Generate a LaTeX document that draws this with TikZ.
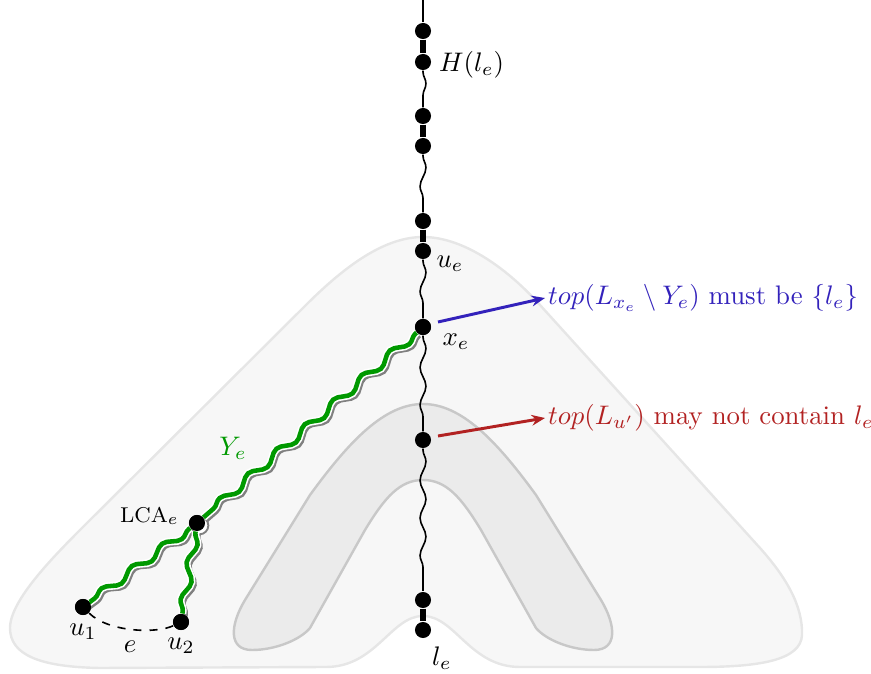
\documentclass[tikz,border=0pt]{standalone}
\usetikzlibrary{decorations.pathmorphing,arrows.meta}
\definecolor{outerfill}{HTML}{F7F7F7}
\definecolor{outerline}{HTML}{E6E6E6}
\definecolor{innerfill}{HTML}{EBEBEB}
\definecolor{innerline}{HTML}{C8C8C8}
\definecolor{ygreen}{HTML}{009900}
\definecolor{bluec}{HTML}{3322BB}
\definecolor{redc}{HTML}{B22222}
\begin{document}
\begin{tikzpicture}[x=0.373pt,y=-0.373pt,
  dot/.style={circle,fill=black,inner sep=0pt,minimum size=6pt},
  thickc/.style={line width=1.9pt},
  thin/.style={line width=0.6pt},
  wavy/.style={line width=0.6pt,decorate,decoration={snake,segment length=14pt,amplitude=1.1pt,pre length=0.5pt,post length=0.5pt}},
  gsnake/.style={decorate,decoration={snake,segment length=14pt,amplitude=1.5pt,pre length=0.5pt,post length=0.5pt}},
  gshadow/.style={gsnake,line width=1.7pt,draw=gray,transform canvas={shift={(1.1pt,-1.1pt)}}},
  gwhite/.style={gsnake,line width=2.9pt,draw=white},
  ggreen/.style={gsnake,line width=1.7pt,draw=ygreen},
  lab/.style={inner sep=1pt},
  callout/.style={line width=1.1pt,-{Stealth[length=5pt,width=4pt]}}
]
\useasboundingbox (0,0) rectangle (871,674);
% outer region
\draw[draw=outerline,fill=outerfill,line width=0.9pt]
 (423,237) .. controls (461,237) and (504,265) .. (540,305)
 -- (760,548) .. controls (785,576) and (803,605) .. (802,635)
 .. controls (801,660) and (760,667) .. (700,667)
 -- (520,667) .. controls (470,667) and (455,616) .. (423,616)
 .. controls (391,616) and (376,667) .. (326,667)
 -- (100,668) .. controls (40,667) and (10,655) .. (10,628)
 .. controls (10,600) and (55,555) .. (85,525)
 -- (306,305) .. controls (346,265) and (385,237) .. (423,237) -- cycle;
% inner region
\draw[draw=innerline,fill=innerfill,line width=0.9pt]
 (423,404) .. controls (385,404) and (350,440) .. (310,495)
 -- (245,600) .. controls (230,625) and (228,650) .. (252,650)
 .. controls (275,650) and (300,640) .. (310,628)
 -- (365,530) .. controls (385,497) and (400,480) .. (423,480)
 .. controls (446,480) and (461,497) .. (481,530)
 -- (536,628) .. controls (546,640) and (571,650) .. (594,650)
 .. controls (618,650) and (616,625) .. (601,600)
 -- (536,495) .. controls (496,440) and (461,404) .. (423,404) -- cycle;
% spine nodes
\node[dot] (h1) at (423,31) {};
\node[dot] (h2) at (423,62) {};
\node[dot] (a1) at (423,116) {};
\node[dot] (a2) at (423,146) {};
\node[dot] (b1) at (423,221) {};
\node[dot] (ue) at (423,251) {};
\node[dot] (xe) at (423,327) {};
\node[dot] (up) at (423,440) {};
\node[dot] (c1) at (423,600) {};
\node[dot] (le) at (423,630) {};
\coordinate (top) at (423,0);
\coordinate (bend) at (423,578);
% spine
\draw[thin] (top) -- (h1);
\draw[thickc] (h1) -- (h2);
\draw[wavy] (h2) -- (a1);
\draw[thickc] (a1) -- (a2);
\draw[wavy] (a2) -- (b1);
\draw[thickc] (b1) -- (ue);
\draw[wavy] (ue) -- (xe);
\draw[wavy] (xe) -- (up);
\draw[wavy] (up) -- (bend);
\draw[thin] (bend) -- (c1);
\draw[thickc] (c1) -- (le);
% Y_e path
\node[dot] (lca) at (197,523) {};
\node[dot] (u1) at (83,607) {};
\node[dot] (u2) at (181,622) {};
\draw[gshadow] (xe) -- (lca);
\draw[gshadow] (lca) -- (u1);
\draw[gshadow] (lca) -- (u2);
\fill[white] ([shift={(2.5,2.5)}]lca.center) circle (3.3pt);
\draw[gray,line width=0.7pt] ([shift={(2.5,2.5)}]lca.center) circle (3.3pt);
\draw[gwhite] (xe) -- (lca);
\draw[gwhite] (lca) -- (u1);
\draw[gwhite] (lca) -- (u2);
\draw[ggreen] (xe) -- (lca);
\draw[ggreen] (lca) -- (u1);
\draw[ggreen] (lca) -- (u2);
\node[dot] at (lca) {};
\node[dot] at (u1) {};
\node[dot] at (u2) {};
\node[dot] at (xe) {};
\draw[dashed,thin] (u1) .. controls +(25,25) and +(-25,12) .. (u2);
% labels
\node[lab,anchor=west] (lh) at (436,65) {$H(l_e)$};
\node[lab] (lue) at (450,264) {$u_e$};
\node[lab] (lxe) at (456,342) {$x_e$};
\node[lab] (lle) at (442,658) {$l_e$};
\node[lab] (lu1) at (83,632) {$u_1$};
\node[lab] (lu2) at (181,646) {$u_2$};
\node[lab] (le2) at (130,647) {$e$};
\node[lab,text=ygreen] (lye) at (233,448) {$Y_e$};
\node[lab,anchor=east] (llca) at (182,516) {\footnotesize LCA$_e$};
% callouts
\node[lab,anchor=west,text=bluec] (tb) at (545,298) {$top(L_{x_e}\setminus Y_e)$ must be $\{l_e\}$};
\node[lab,anchor=west,text=redc] (tr) at (545,418) {$top(L_{u'})$ may not contain $l_e$};
\coordinate (bs) at (438,322);
\coordinate (rs) at (438,436);
\draw[callout,bluec] (bs) -- (tb.west);
\draw[callout,redc] (rs) -- (tr.west);
\end{tikzpicture}
\end{document}
